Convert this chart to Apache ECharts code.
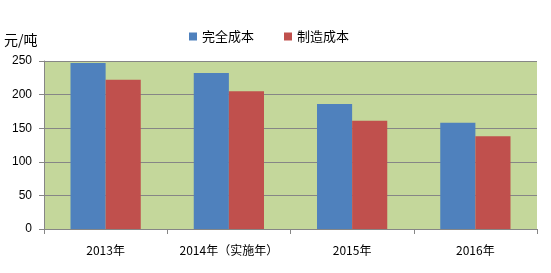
<!DOCTYPE html>
<html><head><meta charset="utf-8">
<script src="https://cdn.jsdelivr.net/npm/echarts@6/dist/echarts.min.js"></script>
<style>html,body{margin:0;padding:0;background:#fff}#c{width:551px;height:273px}</style>
</head><body><div id="c"></div>
<script>
const categories = ['2013年', '2014年（实施年）', '2015年', '2016年'];
const fullCost = [247, 232, 186, 158];
const mfgCost = [222, 205, 161, 138];
const yTicks = [0, 50, 100, 150, 200, 250];
const seriesNames = ['完全成本', '制造成本'];

const chart = echarts.init(document.getElementById('c'));
const font = '"Noto Sans CJK SC", "Liberation Sans", sans-serif';
chart.setOption({
  animation: false,
  textStyle: { fontFamily: font },
  legend: {
    top: 25, left: 184, itemGap: 30, itemWidth: 8, itemHeight: 8,
    icon: 'rect',
    textStyle: { fontSize: 13, color: '#000', fontFamily: font },
    data: seriesNames
  },
  grid: {
    left: 44, right: 14, top: 61, bottom: 44,
    show: true, backgroundColor: '#C4D79B', borderWidth: 0
  },
  xAxis: {
    type: 'category', data: categories,
    axisLine: { lineStyle: { color: '#868686', width: 1 } },
    axisTick: { show: true, length: 5, lineStyle: { color: '#868686' } },
    axisLabel: { color: '#000', fontSize: 12, margin: 15, interval: 0, hideOverlap: false, fontFamily: font }
  },
  yAxis: {
    type: 'value', min: yTicks[0], max: yTicks[yTicks.length - 1], interval: 50,
    name: '元/吨', nameLocation: 'end', nameGap: 14,
    nameTextStyle: { color: '#000', fontSize: 14, align: 'left', padding: [0, 0, 0, -40], fontFamily: font },
    axisLine: { show: true, lineStyle: { color: '#868686' } },
    axisTick: { show: true, length: 5, lineStyle: { color: '#868686' } },
    axisLabel: { color: '#000', fontSize: 12, margin: 12, fontFamily: '"Liberation Sans", sans-serif' },
    splitLine: { lineStyle: { color: '#868686', width: 1 } }
  },
  series: [
    { name: seriesNames[0], type: 'bar', data: fullCost, itemStyle: { color: '#4F81BD' }, barGap: '0%', barCategoryGap: '43%' },
    { name: seriesNames[1], type: 'bar', data: mfgCost, itemStyle: { color: '#C0504D' } }
  ]
});
</script></body></html>
